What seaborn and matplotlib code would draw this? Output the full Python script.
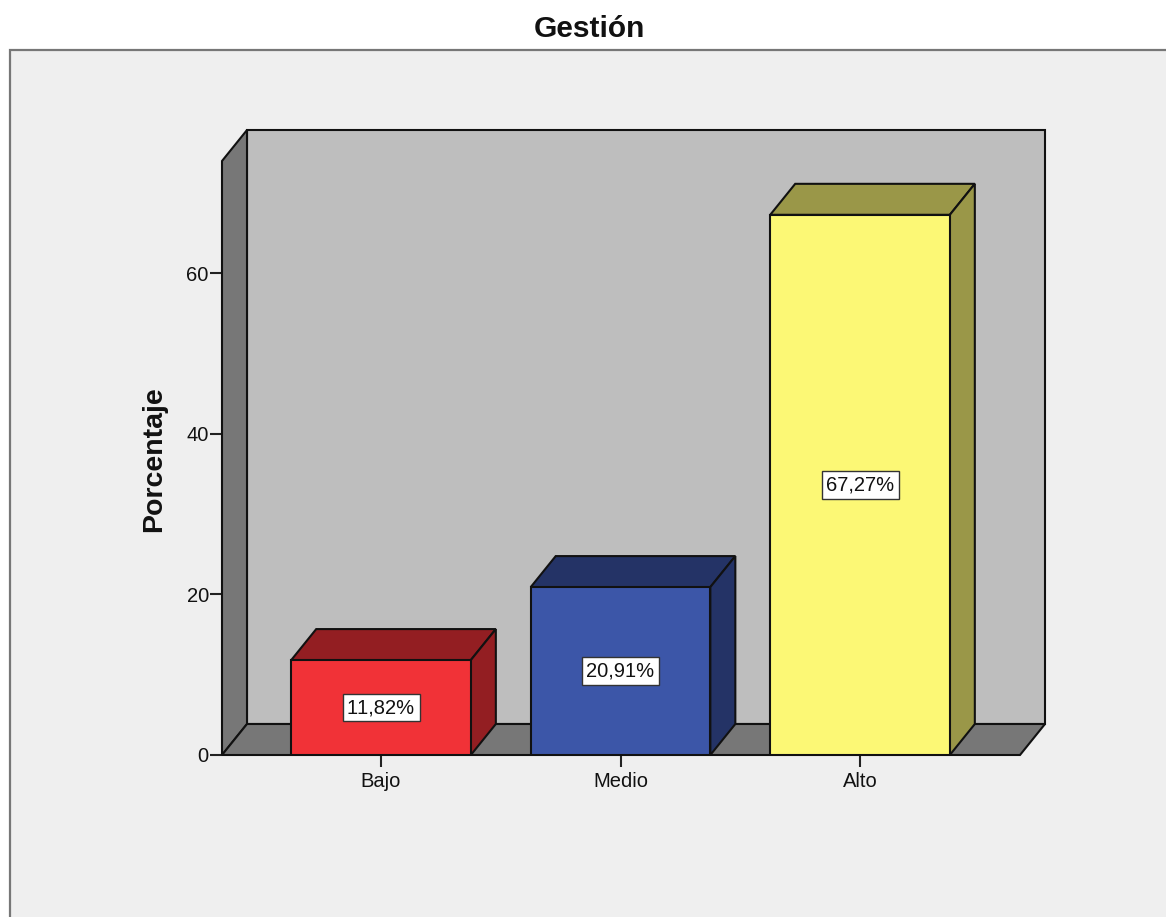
import matplotlib
matplotlib.use('Agg')
import matplotlib.pyplot as plt
import seaborn as sns
import pandas as pd
from matplotlib.patches import Rectangle

categorias = ['Bajo', 'Medio', 'Alto']
porcentajes = [11.82, 20.91, 67.27]
etiquetas = ['11,82%', '20,91%', '67,27%']
colores = ['#F13237', '#3C56A8', '#FCF875']
colores_osc = ['#931E22', '#243366', '#9A9748']
ticks_y = [0, 20, 40, 60]

W, H = 1166, 917

sns.set_theme(style='white')
plt.rcParams['font.family'] = ['Liberation Sans', 'DejaVu Sans']
plt.rcParams['text.kerning_factor'] = 6

fig = plt.figure(figsize=(W / 100, H / 100), dpi=100, facecolor='white')

# grey panel behind the chart
fig.add_artist(Rectangle((9.5 / W, -0.01), 1.1, (H - 50.5) / H + 0.01, transform=fig.transFigure,
                         facecolor='#EFEFEF', edgecolor='#777777', linewidth=1.6, zorder=-1))

# axes = front plane of the 3d box
left, right, bottom, top = 222, 1020, 755, 161
ax = fig.add_axes([left / W, (H - bottom) / H, (right - left) / W, (bottom - top) / H])

df = pd.DataFrame({'cat': categorias, 'pct': porcentajes})
sns.barplot(data=df, x='cat', y='pct', hue='cat', palette=colores, legend=False, width=0.75,
            edgecolor='#111111', linewidth=1.5, saturation=1, ax=ax, zorder=5)

xmin, xmax = -0.664, 2.668
ymax = (bottom - top) / 8.03
ax.set_xlim(xmin, xmax)
ax.set_ylim(0, ymax)
ax.patch.set_visible(False)

# depth of the box in data units
dx = 25 * (xmax - xmin) / (right - left)
dy = 31 * ymax / (bottom - top)


def cara(xs, ys, color, z):
    ax.fill(xs, ys, facecolor=color, edgecolor='#111111', linewidth=1.5, clip_on=False, zorder=z)


# walls
cara([xmin + dx, xmax + dx, xmax + dx, xmin + dx], [dy, dy, ymax + dy, ymax + dy], '#BEBEBE', 1)
cara([xmin, xmin + dx, xmin + dx, xmin], [0, dy, ymax + dy, ymax], '#777777', 2)
cara([xmin, xmax, xmax + dx, xmin + dx], [0, 0, dy, dy], '#777777', 2)

# bar tops and sides
for barra, oscuro, etq, val in zip(ax.patches, colores_osc, etiquetas, porcentajes):
    x0, x1 = barra.get_x(), barra.get_x() + barra.get_width()
    cara([x0, x1, x1 + dx, x0 + dx], [val, val, val + dy, val + dy], oscuro, 4)
    cara([x1, x1 + dx, x1 + dx, x1], [0, dy, val + dy, val], oscuro, 4)
    ax.text((x0 + x1) / 2, val / 2, etq, ha='center', va='center', fontsize=14.5, color='#111111', zorder=7,
            bbox=dict(boxstyle='square,pad=0.22', facecolor='white', edgecolor='#333333', linewidth=1))

sns.despine(ax=ax, top=True, right=True, left=True, bottom=True)
ax.set_yticks(ticks_y)
ax.tick_params(axis='both', length=8.5, width=1.5, color='#222222', labelsize=14.5,
               labelcolor='#111111', left=True, bottom=True)
ax.tick_params(axis='y', pad=1)
ax.tick_params(axis='x', pad=4)
ax.set_xlabel('')
ax.set_ylabel('Porcentaje', fontsize=20.5, fontweight='bold', color='#111111')
ax.yaxis.set_label_coords((167 - left) / (right - left), (bottom - 459) / (bottom - top))

fig.text(589.5 / W, (H - 29) / H, 'Gestión', ha='center', va='center', fontsize=21.5,
         fontweight='bold', color='#111111')

fig.savefig('out.png', dpi=100, facecolor='white')
